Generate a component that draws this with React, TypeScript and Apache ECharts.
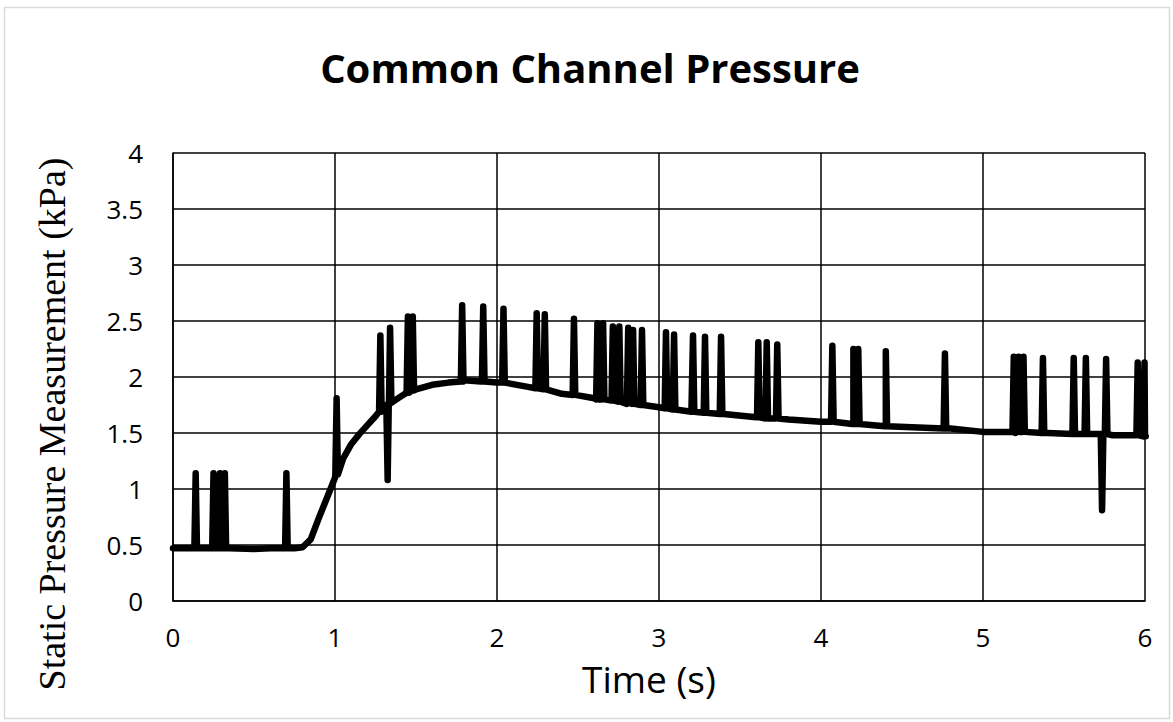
import React, { useEffect, useRef } from "react";
import * as echarts from "echarts";

// Smooth pressure trace (knots of the underlying curve)
const baseTime = [0, 0.1, 0.2, 0.35, 0.5, 0.6, 0.75, 0.8, 0.85, 0.9, 0.95, 1.0, 1.05, 1.1, 1.15, 1.2, 1.25, 1.3, 1.35, 1.4, 1.5, 1.6, 1.7, 1.8, 1.9, 2.0, 2.2, 2.4, 2.6, 2.8, 3.0, 3.2, 3.4, 3.6, 3.8, 4.0, 4.2, 4.4, 4.6, 4.8, 5.0, 5.2, 5.4, 5.6, 5.8, 6.0];
const baseValue = [0.47, 0.47, 0.47, 0.47, 0.465, 0.47, 0.47, 0.48, 0.55, 0.74, 0.92, 1.1, 1.27, 1.4, 1.49, 1.57, 1.65, 1.71, 1.77, 1.82, 1.89, 1.93, 1.95, 1.97, 1.96, 1.95, 1.91, 1.85, 1.81, 1.76, 1.73, 1.69, 1.67, 1.64, 1.62, 1.6, 1.58, 1.56, 1.55, 1.54, 1.51, 1.5, 1.5, 1.49, 1.48, 1.47];

// Sensor spikes: time, extreme value and the level they leave from
const spikeTime = [0.14, 0.25, 0.29, 0.32, 0.7, 1.01, 1.28, 1.325, 1.34, 1.45, 1.48, 1.785, 1.915, 2.04, 2.245, 2.295, 2.475, 2.62, 2.655, 2.715, 2.755, 2.81, 2.84, 2.895, 3.043, 3.093, 3.21, 3.284, 3.383, 3.613, 3.665, 3.73, 4.07, 4.2, 4.23, 4.4, 4.765, 5.19, 5.22, 5.25, 5.37, 5.56, 5.635, 5.735, 5.76, 5.955, 5.997];
const spikePeak = [1.14, 1.14, 1.14, 1.14, 1.14, 1.81, 2.37, 1.08, 2.44, 2.54, 2.54, 2.64, 2.63, 2.61, 2.57, 2.56, 2.52, 2.48, 2.48, 2.45, 2.45, 2.44, 2.42, 2.42, 2.4, 2.38, 2.37, 2.36, 2.36, 2.31, 2.31, 2.29, 2.28, 2.25, 2.25, 2.23, 2.21, 2.18, 2.18, 2.18, 2.17, 2.17, 2.17, 0.81, 2.16, 2.13, 2.13];
const spikeBase = [0.47, 0.47, 0.47, 0.47, 0.47, 1.13, 1.69, 1.75, 1.77, 1.86, 1.88, 1.96, 1.96, 1.95, 1.9, 1.89, 1.84, 1.8, 1.8, 1.79, 1.78, 1.77, 1.76, 1.75, 1.72, 1.71, 1.69, 1.68, 1.67, 1.64, 1.63, 1.63, 1.6, 1.58, 1.58, 1.56, 1.54, 1.51, 1.51, 1.51, 1.5, 1.49, 1.49, 1.49, 1.49, 1.48, 1.47];

const xTicks = [0, 1, 2, 3, 4, 5, 6];
const yTicks = [0, 0.5, 1, 1.5, 2, 2.5, 3, 3.5, 4];

const SPIKE_HALF_WIDTH = 0.008;

function buildTrace(): [number, number][] {
  const pts: [number, number][] = baseTime.map((t, i) => [t, baseValue[i]]);
  spikeTime.forEach((t, i) => {
    pts.push([t - SPIKE_HALF_WIDTH, spikeBase[i]]);
    pts.push([t, spikePeak[i]]);
    pts.push([t + SPIKE_HALF_WIDTH, spikeBase[i]]);
  });
  return pts.sort((a, b) => a[0] - b[0]);
}

export default function App() {
  const ref = useRef<HTMLDivElement>(null);

  useEffect(() => {
    document.body.style.margin = "0";
    if (!ref.current) return;
    const chart = echarts.init(ref.current, null, { renderer: "svg" });
    const sans = "'Open Sans', 'Noto Sans', sans-serif";
    chart.setOption({
      animation: false,
      backgroundColor: "#ffffff",
      grid: { left: 173, right: 28, top: 153, bottom: 121, outerBoundsMode: "none" },
      xAxis: {
        type: "value",
        min: xTicks[0],
        max: xTicks[xTicks.length - 1],
        interval: 1,
        axisLine: { lineStyle: { color: "#000", width: 1.5 } },
        axisTick: { show: false },
        axisLabel: { color: "#000", fontSize: 26, fontFamily: sans, margin: 25, lineHeight: 22 },
        splitLine: { show: true, lineStyle: { color: "#000", width: 1.5 } },
      },
      yAxis: {
        type: "value",
        min: yTicks[0],
        max: yTicks[yTicks.length - 1],
        interval: 0.5,
        axisLine: { show: true, lineStyle: { color: "#000", width: 1.5 } },
        axisTick: { show: false },
        axisLabel: { color: "#000", fontSize: 26, fontFamily: sans, margin: 30 },
        splitLine: { show: true, lineStyle: { color: "#000", width: 1.5 } },
      },
      graphic: [
        {
          type: "rect",
          shape: { x: 4.5, y: 7.5, width: 1165, height: 711 },
          style: { fill: "none", stroke: "#d9d9d9", lineWidth: 1.5 },
          silent: true,
        },
        {
          type: "text",
          x: 590,
          y: 67,
          style: {
            text: "Common Channel Pressure",
            font: `bold 40px ${sans}`,
            fill: "#000",
            textAlign: "center",
            textVerticalAlign: "middle",
          },
        },
        {
          type: "text",
          x: 649,
          y: 678,
          style: {
            text: "Time (s)",
            font: `37px ${sans}`,
            lineHeight: 34,
            fill: "#000",
            textAlign: "center",
            textVerticalAlign: "middle",
          },
        },
        {
          type: "text",
          x: 52,
          y: 424,
          rotation: Math.PI / 2,
          style: {
            text: "Static Pressure Measurement (kPa)",
            font: "38px 'Liberation Serif', 'DejaVu Serif', serif",
            fill: "#000",
            textAlign: "center",
            textVerticalAlign: "middle",
          },
        },
      ],
      series: [
        {
          type: "line",
          data: buildTrace(),
          showSymbol: false,
          symbol: "none",
          lineStyle: { color: "#000", width: 6.5, cap: "round", join: "round" },
          clip: true,
        },
      ],
    });
    return () => chart.dispose();
  }, []);

  return <div ref={ref} style={{ width: 1173, height: 722 }} />;
}
